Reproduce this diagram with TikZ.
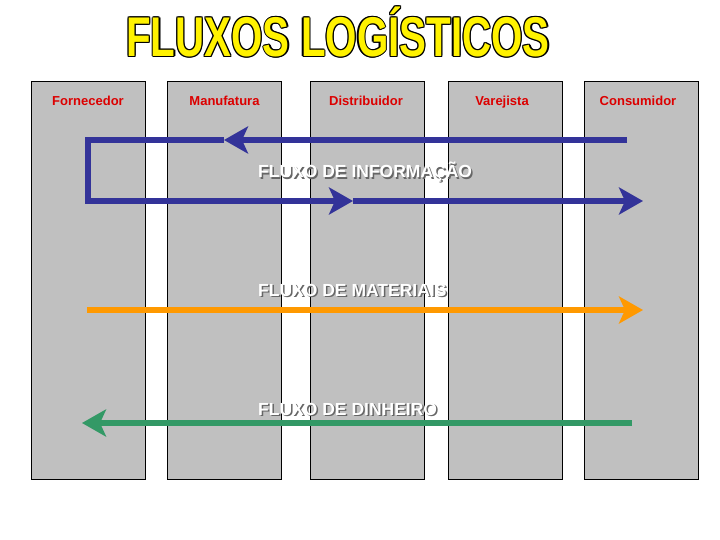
\documentclass[tikz,border=0pt]{standalone}
\usepackage{fontspec}
\setmainfont{Liberation Sans}
\usepackage{tikz}
\usetikzlibrary{arrows.meta, positioning}
\definecolor{flowblue}{RGB}{51, 51, 153}
\definecolor{floworange}{RGB}{255, 153, 0}
\definecolor{flowgreen}{RGB}{51, 153, 102}
\definecolor{colgray}{RGB}{192, 192, 192}
\definecolor{labelred}{RGB}{220, 0, 0}

\begin{document}
\begin{tikzpicture}[x=1pt, y=-1pt,
          column/.style={rectangle, fill=colgray, draw=black, line width=1pt, minimum width=114pt, minimum height=397pt, inner sep=0pt},
          label/.style={anchor=base, inner sep=0pt, font=\fontsize{13}{15}\selectfont\bfseries, text=labelred},
          flowtext/.style={anchor=west, inner sep=0pt, font=\fontsize{17.5}{19}\selectfont\bfseries, text=white},
          flowshadow/.style={anchor=west, inner sep=0pt, font=\fontsize{17.5}{19}\selectfont\bfseries, text=gray!80!black},
          titletext/.style={font=\fontsize{56}{60}\selectfont\bfseries, xscale=0.72, inner sep=0pt},
          tip/.style={-{Stealth[length=24pt, width=27pt, inset=6pt]}},
          conn/.style={line width=6pt, line join=miter}
        ]
          \useasboundingbox (0,0) rectangle (720,540);

          % Title
          \foreach \dx/\dy in {-1.3/0, 1.3/0, 0/-1.3, 0/1.3, -0.9/-0.9, 0.9/-0.9, -0.9/0.9, 0.9/0.9}
            \node[titletext, text=black] at (338+\dx, 32+\dy) {FLUXOS LOGÍSTICOS};
          \node[titletext, text=yellow] (title) at (338, 32) {FLUXOS LOGÍSTICOS};

          % Columns
          \node[column] (forn) at (88, 280.5) {};
          \node[column] (manu) at (224.5, 280.5) {};
          \node[column] (dist) at (367, 280.5) {};
          \node[column] (vare) at (505, 280.5) {};
          \node[column] (cons) at (641.5, 280.5) {};

          % Column labels
          \node[label] (fornlabel) at (88, 105.5) {Fornecedor};
          \node[label] (manulabel) at (224.5, 105.5) {Manufatura};
          \node[label] (distlabel) at (366, 105.5) {Distribuidor};
          \node[label] (varelabel) at (502, 105.5) {Varejista};
          \node[label] (conslabel) at (638, 105.5) {Consumidor};

          % Flow texts
          \node[flowshadow] (infoshadow) at (259.5, 173.5) {FLUXO DE INFORMAÇÃO};
          \node[flowtext] (info) at (258, 172) {FLUXO DE INFORMAÇÃO};
          \node[flowshadow] (matshadow) at (259.5, 291.5) {FLUXO DE MATERIAIS};
          \node[flowtext] (mat) at (258, 290) {FLUXO DE MATERIAIS};
          \node[flowshadow] (cashshadow) at (259.5, 410.5) {FLUXO DE DINHEIRO};
          \node[flowtext] (cash) at (258, 409) {FLUXO DE DINHEIRO};

          % Connection points
          \coordinate (infostart) at (627, 140);
          \coordinate (infoback) at (224, 140);
          \coordinate (infotop) at (88, 140);
          \coordinate (infobottom) at (88, 201);
          \coordinate (infomid) at (353, 201);
          \coordinate (infoend) at (643, 201);
          \coordinate (matstart) at (87, 310);
          \coordinate (matend) at (643, 310);
          \coordinate (cashstart) at (632, 423);
          \coordinate (cashend) at (82, 423);

          % Connections
          \draw[conn, tip, flowblue] (infostart) -- (infoback);
          \draw[conn, tip, flowblue] (infoback) -- (infotop) -- (infobottom) -- (infomid);
          \draw[conn, tip, flowblue] (infomid) -- (infoend);
          \draw[conn, tip, floworange, line width=5.5pt] (matstart) -- (matend);
          \draw[conn, tip, flowgreen, line width=5.5pt] (cashstart) -- (cashend);
        \end{tikzpicture}
\end{document}
